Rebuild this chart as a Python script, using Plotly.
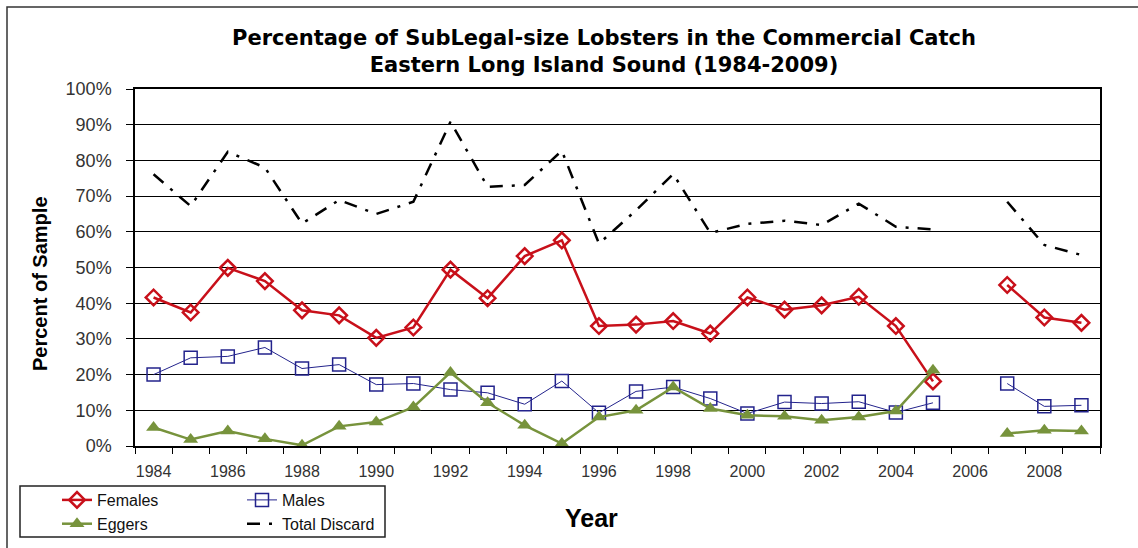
import plotly.graph_objects as go

# Survey years (2006 not sampled)
years = list(range(1984, 2010))

# Percent of sample that was sub-legal size, by category
females = [41.6, 37.4, 49.9, 46.2, 38.0, 36.6, 30.3, 33.2, 49.4, 41.4,
           53.2, 57.6, 33.6, 34.0, 35.0, 31.5, 41.6, 38.2, 39.4, 41.8,
           33.6, 18.1, None, 45.1, 36.0, 34.5]
males = [20.0, 24.7, 25.1, 27.6, 21.7, 22.8, 17.2, 17.5, 15.8, 14.9,
         11.7, 18.2, 9.3, 15.3, 16.5, 13.3, 9.1, 12.3, 11.9, 12.4,
         9.4, 12.1, None, 17.5, 11.1, 11.4]
eggers = [5.2, 1.8, 4.2, 2.0, 0.2, 5.5, 6.7, 10.9, 20.6, 12.1,
          5.8, 0.7, 8.1, 10.0, 16.5, 10.5, 8.6, 8.3, 7.2, 8.1,
          9.8, 21.2, None, 3.5, 4.4, 4.2]
total_discard = [76.1, 67.2, 82.4, 78.0, 62.3, 68.9, 65.0, 68.4, 90.8, 72.6,
                 73.1, 82.7, 56.7, 66.0, 76.2, 59.7, 62.2, 63.1, 61.9, 67.9,
                 61.4, 60.7, None, 68.4, 56.3, 53.5]

year_labels = [str(y) if y % 2 == 0 else "" for y in years]
pct_ticks = list(range(0, 101, 10))
pct_labels = [f"{v}%" for v in pct_ticks]

W, H = 1138, 548
L, R, T, B = 135, 38, 89, 102
PW, PH = W - L - R, H - T - B


def px_x(p):
    return (p - L) / PW


def px_y(p):
    return (H - B - p) / PH


FONT = "Liberation Sans, Arial, sans-serif"
TITLE_FONT = "DejaVu Sans, Liberation Sans, sans-serif"

fig = go.Figure()

fig.add_trace(go.Scatter(
    x=years, y=females, name="Females", mode="lines+markers",
    line=dict(color="#C8101A", width=2.5),
    marker=dict(symbol="diamond-open", size=12, color="#C8101A",
                line=dict(width=2.5)),
    legend="legend", connectgaps=False,
))
fig.add_trace(go.Scatter(
    x=years, y=males, name="Males", mode="lines+markers",
    line=dict(color="#23238C", width=1),
    marker=dict(symbol="square-open", size=13, color="#23238C",
                line=dict(width=1.5)),
    legend="legend2", connectgaps=False,
))
fig.add_trace(go.Scatter(
    x=years, y=eggers, name="Eggers", mode="lines+markers",
    line=dict(color="#77933C", width=2.5),
    marker=dict(symbol="triangle-up", size=13, color="#77933C"),
    legend="legend", connectgaps=False,
))
fig.add_trace(go.Scatter(
    x=years, y=total_discard, name="Total Discard", mode="lines",
    line=dict(color="#000000", width=2.5, dash="13px,9px,3px,9px"),
    legend="legend2", connectgaps=False,
))

legend_common = dict(
    orientation="v", xanchor="left", yanchor="top", xref="paper", yref="paper",
    font=dict(family=FONT, size=16, color="#111111"),
    bgcolor="rgba(0,0,0,0)", borderwidth=0, tracegroupgap=0,
    itemclick=False, itemdoubleclick=False,
)

fig.update_layout(
    width=W, height=H,
    margin=dict(l=L, r=R, t=T, b=B, autoexpand=False),
    paper_bgcolor="white", plot_bgcolor="white",
    title=dict(
        text="Percentage of SubLegal-size Lobsters in the Commercial Catch"
             "<br>Eastern Long Island Sound (1984-2009)",
        font=dict(family=TITLE_FONT, size=21, color="#000000", weight="bold"),
        xref="paper", x=px_x(604), xanchor="center",
        yref="container", y=1 - 45 / H, yanchor="middle",
    ),
    xaxis=dict(
        range=[1983.5, 2009.5],
        tickmode="array", tickvals=years, ticktext=year_labels,
        ticks="", showgrid=False,
        minor=dict(ticks="outside", tick0=1983.5, dtick=1, ticklen=6,
                   tickwidth=1, tickcolor="#000000", showgrid=False),
        showline=True, linecolor="#000000", linewidth=1.5, mirror=True,
        tickfont=dict(family=FONT, size=16, color="#333333"),
        ticklabelstandoff=10, zeroline=False, automargin=False,
    ),
    yaxis=dict(
        range=[0, 100], tickmode="array", tickvals=pct_ticks, ticktext=pct_labels,
        ticks="outside", ticklen=7, tickwidth=1, tickcolor="#000000",
        showgrid=True, gridcolor="#000000", gridwidth=1.2,
        showline=True, linecolor="#000000", linewidth=1.5, mirror=True,
        tickfont=dict(family=FONT, size=18, color="#333333"),
        ticklabelstandoff=11, zeroline=False, automargin=False,
    ),
    legend=dict(legend_common, x=px_x(57), y=px_y(483)),
    legend2=dict(legend_common, x=px_x(242), y=px_y(483)),
    annotations=[
        dict(text="<b>Percent of Sample</b>", textangle=-90,
             xref="paper", yref="paper", x=px_x(40), y=px_y(284),
             xanchor="center", yanchor="middle", showarrow=False,
             font=dict(family=FONT, size=20, color="#000000")),
        dict(text="<b>Year</b>",
             xref="paper", yref="paper", x=px_x(591), y=px_y(518),
             xanchor="center", yanchor="middle", showarrow=False,
             font=dict(family=FONT, size=25, color="#000000")),
    ],
    shapes=[
        # outer chart frame
        dict(type="rect", xref="paper", yref="paper",
             x0=px_x(7), x1=px_x(1145), y0=px_y(555), y1=px_y(7),
             line=dict(color="#333333", width=1.5), layer="below"),
        # legend box
        dict(type="rect", xref="paper", yref="paper",
             x0=px_x(20), x1=px_x(385), y0=px_y(537), y1=px_y(486),
             line=dict(color="#222222", width=1.5), layer="below"),
    ],
)

fig.write_html("out.html")
